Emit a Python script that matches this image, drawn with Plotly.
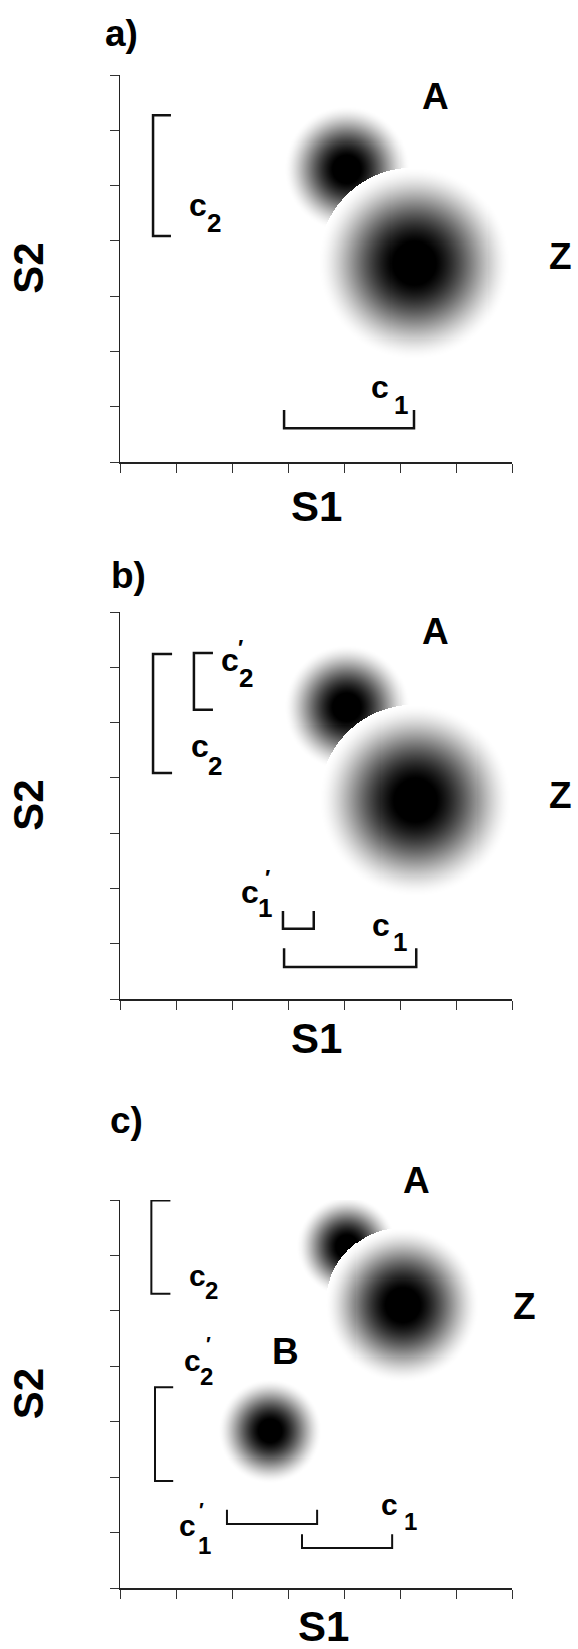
import numpy as np
import plotly.graph_objects as go
from plotly.subplots import make_subplots

W, H = 578, 1649
FONT = "Liberation Sans, Arial, Helvetica, sans-serif"

# ---------------- data ----------------
panel_labels = ["a)", "b)", "c)"]
tick_values = [0, 1, 2, 3, 4, 5, 6, 7]

# blobs (category distributions): centre on S1, centre on S2, radius (axis units)
blob_names_a = ["A", "Z"]
blob_s1_a = [4.05, 5.25]
blob_s2_a = [5.30, 3.60]
blob_r_a = [1.12, 1.71]

blob_names_b = ["A", "Z"]
blob_s1_b = [4.05, 5.27]
blob_s2_b = [5.27, 3.60]
blob_r_b = [1.12, 1.71]

blob_names_c = ["A", "Z", "B"]
blob_s1_c = [4.05, 5.05, 2.68]
blob_s2_c = [6.16, 5.11, 2.83]
blob_r_c = [0.89, 1.375, 0.93]

# brackets: orientation, start, end (range covered), spine position, arm tip
bracket_names_a = ["c2", "c1"]
bracket_orient_a = ["v", "h"]
bracket_start_a = [4.09, 2.93]
bracket_end_a = [6.27, 5.25]
bracket_pos_a = [0.59, 0.61]
bracket_tip_a = [0.91, 0.94]

bracket_names_b = ["c2", "c2'", "c1'", "c1"]
bracket_orient_b = ["v", "v", "h", "h"]
bracket_start_b = [4.09, 5.23, 2.91, 2.93]
bracket_end_b = [6.24, 6.26, 3.46, 5.29]
bracket_pos_b = [0.59, 1.32, 1.27, 0.58]
bracket_tip_b = [0.93, 1.66, 1.59, 0.92]

bracket_names_c = ["c2", "c2'", "c1'", "c1"]
bracket_orient_c = ["v", "v", "h", "h"]
bracket_start_c = [5.31, 1.93, 1.91, 3.25]
bracket_end_c = [6.99, 3.62, 3.52, 4.86]
bracket_pos_c = [0.56, 0.625, 1.155, 0.72]
bracket_tip_c = [0.90, 0.95, 1.41, 0.97]

# ---------------- layout geometry (pixels) ----------------
x_px = (120, 512)
y_px = [(75, 462), (612, 999), (1200, 1588)]
aspect = ((x_px[1] - x_px[0]) / 7.0) / ((y_px[0][1] - y_px[0][0]) / 7.0)

fig = make_subplots(rows=3, cols=1)

blobs = [
    (blob_names_a, blob_s1_a, blob_s2_a, blob_r_a),
    (blob_names_b, blob_s1_b, blob_s2_b, blob_r_b),
    (blob_names_c, blob_s1_c, blob_s2_c, blob_r_c),
]
brackets = [
    (bracket_names_a, bracket_orient_a, bracket_start_a, bracket_end_a, bracket_pos_a, bracket_tip_a),
    (bracket_names_b, bracket_orient_b, bracket_start_b, bracket_end_b, bracket_pos_b, bracket_tip_b),
    (bracket_names_c, bracket_orient_c, bracket_start_c, bracket_end_c, bracket_pos_c, bracket_tip_c),
]

grey = [[0.0, "#ffffff"], [1.0, "#000000"]]

for p in range(3):
    row = p + 1
    names, s1, s2, rr = blobs[p]
    for name, cx, cy, r in zip(names, s1, s2, rr):
        ry = r * aspect
        step = 0.018
        n = int(np.ceil(2 * r / step)) + 1
        xs = cx - r + step * np.arange(n)
        ys = cy - ry + step * aspect * np.arange(n)
        X, Y = np.meshgrid(xs, ys)
        d = np.sqrt(((X - cx) / r) ** 2 + ((Y - cy) / ry) ** 2)
        z = np.clip(1.1 * np.clip(1 - d ** 2, 0, 1) ** 1.8, 0, 1)
        z = np.where(d <= 1.0, np.round(z, 3), np.nan)
        fig.add_trace(go.Heatmap(x=xs, y=ys, z=z, colorscale=grey, zmin=0, zmax=1,
                                 showscale=False, hoverinfo="skip", name=name),
                      row=row, col=1)
    bn, bo, bs, be, bp, bt = brackets[p]
    lw = 2.5 if p < 2 else 2.0
    for name, o, a0, a1, pos, tip in zip(bn, bo, bs, be, bp, bt):
        if o == "v":
            xx = [tip, pos, pos, tip]
            yy = [a1, a1, a0, a0]
        else:
            xx = [a0, a0, a1, a1]
            yy = [tip, pos, pos, tip]
        fig.add_trace(go.Scatter(x=xx, y=yy, mode="lines", name=name,
                                 line=dict(color="#111111", width=lw),
                                 hoverinfo="skip", showlegend=False),
                      row=row, col=1)

for p in range(3):
    xa = "xaxis" if p == 0 else f"xaxis{p+1}"
    ya = "yaxis" if p == 0 else f"yaxis{p+1}"
    top, bot = y_px[p]
    common = dict(range=[0, 7], tickvals=tick_values, showticklabels=False,
                  ticks="outside", ticklen=9, tickwidth=1, tickcolor="#333333",
                  showline=True, linewidth=1.5, linecolor="#222222",
                  showgrid=False, zeroline=False, mirror=False, fixedrange=True)
    fig.layout[xa].update(domain=[x_px[0] / W, x_px[1] / W], **common)
    fig.layout[ya].update(domain=[1 - bot / H, 1 - top / H], **common)

annotations = []


def ann(text, xpix, ypix, size, angle=0):
    annotations.append(dict(text=text, x=xpix / W, y=1 - ypix / H, xref="paper", yref="paper",
                            showarrow=False, textangle=angle,
                            xanchor="center", yanchor="middle",
                            font=dict(family=FONT, size=size, color="black", weight="bold")))


def to_px(p, u, v):
    top, bot = y_px[p]
    return (x_px[0] + u * (x_px[1] - x_px[0]) / 7.0,
            bot - v * (bot - top) / 7.0)


# panel letters
ann(panel_labels[0], 121, 33, 37)
ann(panel_labels[1], 128, 575, 37)
ann(panel_labels[2], 126, 1120, 37)

# per-panel text labels (positions in axis units of each panel)
panel_texts = [
    [("A", 5.64, 6.62, 37), ("Z", 7.86, 3.71, 37),
     ("c", 1.40, 4.64, 32), ("2", 1.67, 4.32, 26),
     ("c", 4.64, 1.36, 32), ("1", 5.01, 1.04, 26),
     ("S1", 3.5, -0.81, 42), ("S2", -1.64, 3.5, 42)],
    [("A", 5.64, 6.64, 37), ("Z", 7.86, 3.68, 37),
     ("c", 1.96, 6.13, 32), ("′", 2.16, 6.36, 22), ("2", 2.25, 5.80, 26),
     ("c", 1.43, 4.57, 32), ("2", 1.70, 4.22, 26),
     ("c", 2.32, 1.93, 32), ("′", 2.64, 2.20, 22), ("1", 2.59, 1.64, 26),
     ("c", 4.66, 1.33, 32), ("1", 5.00, 1.03, 26),
     ("S1", 3.5, -0.72, 42), ("S2", -1.64, 3.5, 42)],
    [("A", 5.29, 7.35, 37), ("Z", 7.23, 5.07, 37), ("B", 2.96, 4.26, 37),
     ("c", 1.375, 5.63, 30), ("2", 1.64, 5.36, 24),
     ("c", 1.29, 4.11, 30), ("′", 1.58, 4.40, 20), ("2", 1.55, 3.82, 24),
     ("c", 1.20, 1.13, 30), ("′", 1.46, 1.41, 20), ("1", 1.50, 0.77, 24),
     ("c", 4.82, 1.51, 30), ("1", 5.18, 1.20, 24),
     ("S1", 3.63, -0.69, 42), ("S2", -1.64, 3.5, 42)],
]

for p in range(3):
    for text, u, v, size in panel_texts[p]:
        xp, yp = to_px(p, u, v)
        ann(text, xp, yp, size, angle=-90 if text == "S2" else 0)

fig.update_layout(width=W, height=H, margin=dict(l=0, r=0, t=0, b=0),
                  paper_bgcolor="white", plot_bgcolor="white",
                  showlegend=False, annotations=annotations)

fig.write_html("out.html", config={"displayModeBar": False, "staticPlot": True},
               post_script="document.body.style.margin='0';document.body.style.overflow='hidden';")
